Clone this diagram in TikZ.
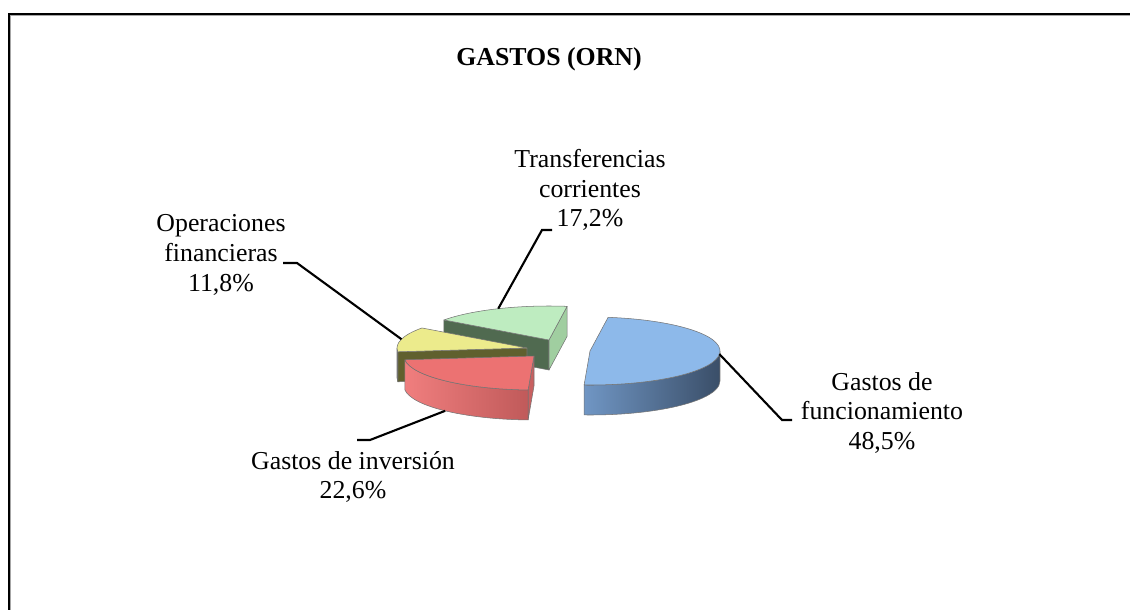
\documentclass[tikz,border=0pt]{standalone}
\usepackage{fontspec}
\setmainfont{Liberation Serif}
\usetikzlibrary{calc}
\definecolor{blutop}{RGB}{141,185,234}
\definecolor{bluleft}{RGB}{112,150,196}
\definecolor{bluright}{RGB}{58,78,104}
\definecolor{grntop}{RGB}{190,236,192}
\definecolor{grndark}{RGB}{80,106,80}
\definecolor{grnside}{RGB}{160,206,160}
\definecolor{yeltop}{RGB}{236,235,140}
\definecolor{yeldark}{RGB}{96,96,46}
\definecolor{redtop}{RGB}{236,114,114}
\definecolor{redleft}{RGB}{240,126,126}
\definecolor{redright}{RGB}{192,90,90}
\definecolor{redface}{RGB}{200,96,96}

\begin{document}
\begin{tikzpicture}[x=0.02cm, y=0.02cm,
	every node/.style={font=\fontsize{14.7}{17}\selectfont, align=center, inner sep=0pt},
	rim/.style={x radius=130, y radius=34},
	face/.style={draw=black!55, line width=0.3pt, line join=round},
	leader/.style={draw=black, line width=1.2pt}]
	\useasboundingbox (0,0) rectangle (1130,610);
	\draw[black!35, line width=0.6pt] (1130,595) -- (10,595) -- (10,0);
	\draw[black, line width=0.6pt] (1130,596) -- (9,596) -- (9,0);
	\coordinate (gc) at (549,270);
	\coordinate (yc) at (527,262);
	\coordinate (rc) at (534,254);
	\coordinate (bc) at (590,259);
	\draw[face, fill=grndark] (gc) -- ($(gc)+(143.9:130 and 34)$) -- ++(0,-30) -- ($(gc)+(0,-30)$) -- cycle;
	\draw[face, fill=grnside] (gc) -- ($(gc)+(82:130 and 34)$) -- ++(0,-30) -- ($(gc)+(0,-30)$) -- cycle;
	\draw[face, fill=grntop] (gc) -- ($(gc)+(82:130 and 34)$) arc[rim, start angle=82, end angle=143.9] -- cycle;
	\draw[face, fill=yeldark] (yc) -- ($(yc)+(186.4:130 and 34)$) -- ++(0,-30) -- ($(yc)+(0,-30)$) -- cycle;
	\draw[face, fill=yeldark] ($(yc)+(180:130 and 34)$) arc[rim, start angle=180, end angle=186.4] -- ++(0,-30) arc[rim, start angle=186.4, end angle=180] -- cycle;
	\draw[face, fill=yeltop] (yc) -- ($(yc)+(143.9:130 and 34)$) arc[rim, start angle=143.9, end angle=186.4] -- cycle;
	\draw[face, fill=redface] (rc) -- ($(rc)+(267.4:130 and 34)$) -- ++(0,-30) -- ($(rc)+(0,-30)$) -- cycle;
	\draw[face, left color=redleft, right color=redright] ($(rc)+(186.4:130 and 34)$) arc[rim, start angle=186.4, end angle=267.4] -- ++(0,-30) arc[rim, start angle=267.4, end angle=186.4] -- cycle;
	\draw[face, fill=redtop] (rc) -- ($(rc)+(186.4:130 and 34)$) arc[rim, start angle=186.4, end angle=267.4] -- cycle;
	\draw[face, left color=bluleft, right color=bluright] ($(bc)+(-92.6:130 and 34)$) arc[rim, start angle=-92.6, end angle=0] -- ++(0,-30) arc[rim, start angle=0, end angle=-92.6] -- cycle;
	\draw[face, fill=blutop] (bc) -- ($(bc)+(-92.6:130 and 34)$) arc[rim, start angle=-92.6, end angle=82] -- cycle;
	\node (title) at (549,551) {\bfseries GASTOS (ORN)};
	\node (trans) at (590,420) {Transferencias\\corrientes\\17,2\%};
	\node (oper) at (221,355) {Operaciones\\financieras\\11,8\%};
	\node (func) at (882,197) {Gastos de\\funcionamiento\\48,5\%};
	\node (inv) at (353,133) {Gastos de inversión\\22,6\%};
	\coordinate (gmid) at ($(gc)+(113:130 and 34)$);
	\coordinate (ymid) at ($(yc)+(165:130 and 34)$);
	\coordinate (bmid) at ($(bc)+(-5.3:130 and 34)$);
	\coordinate (rmid) at ($(rc)+(226.9:130 and 34)+(0,-30)$);
	\coordinate (transk) at (552,380);
	\coordinate (operk) at (283,347);
	\coordinate (funck) at (792,190);
	\coordinate (invk) at (357,170);
	\draw[leader] (transk) -- ++(-10,0) -- (gmid);
	\draw[leader] (operk) -- ++(14,0) -- (ymid);
	\draw[leader] (funck) -- ++(-10,0) -- (bmid);
	\draw[leader] (invk) -- ++(13,0) -- (rmid);
\end{tikzpicture}
\end{document}
